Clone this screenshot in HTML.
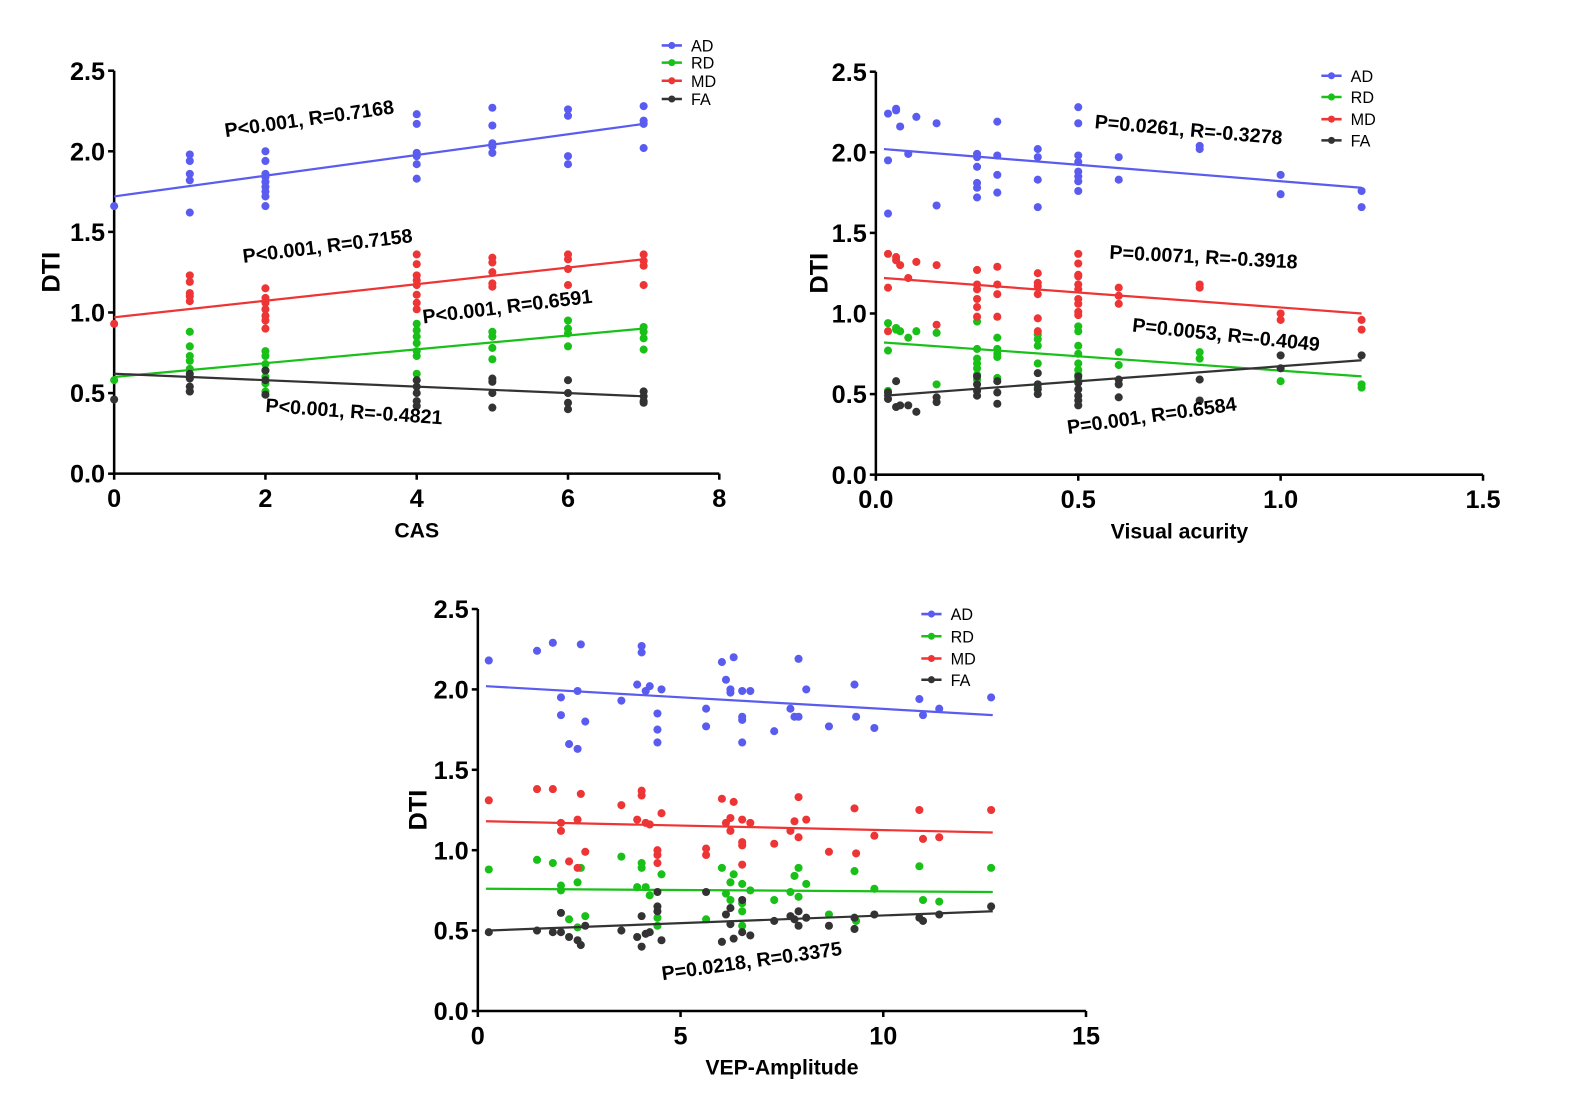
<!DOCTYPE html>
<html><head><meta charset="utf-8"><style>
html,body{margin:0;padding:0;background:#fff;}
svg{display:block;}
text{font-family:"Liberation Sans Narrow","Liberation Sans",sans-serif;}
</style></head><body>
<svg id="chart" xmlns="http://www.w3.org/2000/svg" width="1580" height="1115" viewBox="0 0 1564 1104" preserveAspectRatio="none"></svg>
<script>
// ---------- Data ----------
const seriesNames = ["AD","RD","MD","FA"];
const yTickLabels = ["0.0","0.5","1.0","1.5","2.0","2.5"];
const yTickValues = [0,0.5,1,1.5,2,2.5];

// Panel 1: CAS
const casTicks = [0,2,4,6,8];
const casTickLabels = ["0","2","4","6","8"];
const casAD_x = [0,1,1,1,1,1,2,2,2,2,2,2,2,2,2,4,4,4,4,4,4,5,5,5,5,5,6,6,6,6,7,7,7,7];
const casAD_y = [1.66,1.98,1.94,1.86,1.82,1.62,2.00,1.94,1.86,1.84,1.81,1.78,1.75,1.72,1.66,2.23,2.17,1.99,1.97,1.92,1.83,2.27,2.16,2.05,2.03,1.99,2.26,2.22,1.97,1.92,2.28,2.19,2.17,2.02];
const casMD_x = [0,1,1,1,1,1,2,2,2,2,2,2,2,4,4,4,4,4,4,4,4,5,5,5,5,5,6,6,6,6,7,7,7,7];
const casMD_y = [0.93,1.23,1.19,1.12,1.10,1.07,1.15,1.09,1.06,1.02,0.98,0.95,0.90,1.36,1.30,1.23,1.20,1.17,1.11,1.06,1.02,1.34,1.31,1.25,1.18,1.16,1.36,1.33,1.27,1.17,1.36,1.32,1.29,1.17];
const casRD_x = [0,1,1,1,1,1,1,1,2,2,2,2,2,2,2,4,4,4,4,4,4,4,5,5,5,5,6,6,6,6,7,7,7,7];
const casRD_y = [0.58,0.88,0.79,0.73,0.70,0.65,0.60,0.51,0.76,0.73,0.68,0.64,0.60,0.56,0.51,0.93,0.89,0.85,0.81,0.76,0.73,0.62,0.88,0.85,0.78,0.71,0.95,0.90,0.87,0.79,0.91,0.88,0.84,0.77];
const casFA_x = [0,1,1,1,1,2,2,2,4,4,4,4,4,5,5,5,5,6,6,6,6,7,7,7,7];
const casFA_y = [0.46,0.62,0.59,0.54,0.51,0.64,0.58,0.49,0.58,0.54,0.50,0.45,0.42,0.59,0.57,0.50,0.41,0.58,0.50,0.44,0.40,0.51,0.48,0.45,0.44];
const casFitX = [0,7];
const casFitAD = [1.72,2.17];
const casFitRD = [0.60,0.90];
const casFitMD = [0.97,1.33];
const casFitFA = [0.62,0.48];

// Panel 2: Visual acuity
const vaTicks = [0,0.5,1,1.5];
const vaTickLabels = ["0.0","0.5","1.0","1.5"];
const vaAD_x = [0.03,0.03,0.03,0.05,0.05,0.06,0.08,0.1,0.15,0.15,0.25,0.25,0.25,0.25,0.25,0.25,0.3,0.3,0.3,0.3,0.4,0.4,0.4,0.4,0.5,0.5,0.5,0.5,0.5,0.5,0.5,0.5,0.6,0.6,0.8,0.8,1.0,1.0,1.2,1.2];
const vaAD_y = [2.24,1.95,1.62,2.27,2.26,2.16,1.99,2.22,2.18,1.67,1.99,1.97,1.91,1.81,1.78,1.72,2.19,1.98,1.86,1.75,2.02,1.97,1.83,1.66,2.28,2.18,1.98,1.94,1.88,1.85,1.82,1.76,1.97,1.83,2.04,2.02,1.86,1.74,1.76,1.66];
const vaMD_x = [0.03,0.03,0.03,0.05,0.05,0.06,0.08,0.1,0.15,0.15,0.25,0.25,0.25,0.25,0.25,0.25,0.3,0.3,0.3,0.3,0.4,0.4,0.4,0.4,0.4,0.4,0.5,0.5,0.5,0.5,0.5,0.5,0.5,0.5,0.5,0.5,0.6,0.6,0.6,0.8,0.8,1.0,1.0,1.2,1.2];
const vaMD_y = [1.37,1.16,0.89,1.35,1.33,1.30,1.22,1.32,1.30,0.93,1.27,1.18,1.15,1.09,1.04,0.98,1.29,1.18,1.12,0.98,1.25,1.19,1.17,1.12,0.97,0.89,1.37,1.31,1.24,1.23,1.18,1.15,1.09,1.06,1.01,0.99,1.16,1.11,1.06,1.18,1.16,1.00,0.96,0.96,0.90];
const vaRD_x = [0.03,0.03,0.03,0.05,0.05,0.06,0.08,0.1,0.15,0.15,0.25,0.25,0.25,0.25,0.25,0.25,0.25,0.3,0.3,0.3,0.3,0.3,0.4,0.4,0.4,0.4,0.4,0.4,0.5,0.5,0.5,0.5,0.5,0.5,0.5,0.5,0.6,0.6,0.8,0.8,1.0,1.2,1.2];
const vaRD_y = [0.94,0.77,0.52,0.91,0.90,0.89,0.85,0.89,0.88,0.56,0.95,0.78,0.72,0.69,0.66,0.62,0.59,0.85,0.78,0.75,0.73,0.60,0.87,0.84,0.80,0.69,0.56,0.54,0.92,0.89,0.80,0.75,0.69,0.65,0.62,0.59,0.76,0.68,0.76,0.72,0.58,0.56,0.54];
const vaFA_x = [0.03,0.03,0.05,0.05,0.06,0.08,0.1,0.15,0.15,0.25,0.25,0.25,0.25,0.3,0.3,0.3,0.4,0.4,0.4,0.4,0.5,0.5,0.5,0.5,0.5,0.5,0.6,0.6,0.6,0.8,0.8,1.0,1.0,1.2];
const vaFA_y = [0.51,0.47,0.58,0.42,0.43,0.43,0.39,0.48,0.45,0.61,0.56,0.52,0.49,0.58,0.51,0.44,0.63,0.56,0.53,0.50,0.61,0.57,0.53,0.49,0.46,0.43,0.59,0.56,0.48,0.59,0.46,0.74,0.66,0.74];
const vaFitX = [0.02,1.2];
const vaFitAD = [2.02,1.78];
const vaFitRD = [0.82,0.61];
const vaFitMD = [1.22,1.00];
const vaFitFA = [0.49,0.71];

// Panel 3: VEP amplitude
const vepTicks = [0,5,10,15];
const vepTickLabels = ["0","5","10","15"];
const vepAD_x = [0.27,1.46,1.85,2.54,2.05,2.05,2.46,2.65,2.25,2.46,3.54,3.93,4.04,4.04,4.14,4.24,4.53,4.43,4.43,4.43,5.63,5.63,6.02,6.31,6.12,6.23,6.23,6.52,6.72,6.52,6.52,6.52,7.31,7.71,7.81,7.91,7.91,8.10,8.66,9.29,9.33,9.78,10.89,10.98,11.38,12.66];
const vepAD_y = [2.18,2.24,2.29,2.28,1.95,1.84,1.99,1.80,1.66,1.63,1.93,2.03,2.27,2.23,1.99,2.02,2.00,1.85,1.75,1.67,1.88,1.77,2.17,2.20,2.06,2.00,1.98,1.99,1.99,1.83,1.81,1.67,1.74,1.88,1.83,1.83,2.19,2.00,1.77,2.03,1.83,1.76,1.94,1.84,1.88,1.95];
const vepMD_x = [0.27,1.46,1.85,2.54,2.05,2.05,2.46,2.65,2.25,2.46,3.54,3.93,4.04,4.04,4.14,4.24,4.53,4.43,4.43,4.43,5.63,5.63,6.02,6.31,6.12,6.23,6.23,6.52,6.72,6.52,6.52,6.52,7.31,7.71,7.81,7.91,7.91,8.10,8.66,9.29,9.33,9.78,10.89,10.98,11.38,12.66];
const vepMD_y = [1.31,1.38,1.38,1.35,1.17,1.12,1.19,0.99,0.93,0.89,1.28,1.19,1.37,1.34,1.17,1.16,1.23,1.00,0.97,0.92,1.01,0.97,1.32,1.30,1.17,1.20,1.12,1.19,1.17,1.05,1.03,0.91,1.04,1.12,1.18,1.33,1.08,1.19,0.99,1.26,0.98,1.09,1.25,1.07,1.08,1.25];
const vepRD_x = [0.27,1.46,1.85,2.54,2.05,2.05,2.46,2.65,2.25,2.46,3.54,3.93,4.04,4.04,4.14,4.24,4.53,4.43,4.43,5.63,6.02,6.31,6.12,6.23,6.23,6.52,6.72,6.52,6.52,6.52,7.31,7.71,7.81,7.91,7.91,8.10,8.66,9.29,9.33,9.78,10.89,10.98,11.38,12.66];
const vepRD_y = [0.88,0.94,0.92,0.89,0.78,0.75,0.80,0.59,0.57,0.52,0.96,0.77,0.92,0.89,0.77,0.72,0.85,0.58,0.53,0.57,0.89,0.85,0.73,0.80,0.69,0.79,0.75,0.67,0.62,0.53,0.69,0.74,0.84,0.89,0.71,0.79,0.60,0.87,0.56,0.76,0.90,0.69,0.68,0.89];
const vepFA_x = [0.27,1.46,1.85,2.05,2.25,2.46,2.54,2.65,2.05,3.54,3.93,4.04,4.04,4.14,4.24,4.43,4.43,4.43,4.53,5.63,6.02,6.12,6.23,6.23,6.31,6.52,6.52,6.72,7.31,7.71,7.81,7.91,7.91,8.10,8.66,9.29,9.29,9.78,10.89,10.98,11.38,12.66];
const vepFA_y = [0.49,0.50,0.49,0.49,0.46,0.44,0.41,0.53,0.61,0.50,0.46,0.59,0.40,0.48,0.49,0.74,0.65,0.62,0.44,0.74,0.43,0.60,0.64,0.54,0.45,0.69,0.49,0.47,0.56,0.59,0.57,0.62,0.53,0.58,0.53,0.58,0.51,0.60,0.58,0.56,0.60,0.65];
const vepFitX = [0.2,12.7];
const vepFitAD = [2.02,1.84];
const vepFitRD = [0.76,0.74];
const vepFitMD = [1.18,1.11];
const vepFitFA = [0.50,0.62];

// ---------- Drawing ----------
const NS = "http://www.w3.org/2000/svg";
const svg = document.getElementById("chart");
const COLORS = {AD:"#5a5cf0", RD:"#18c018", MD:"#ee3535", FA:"#333333"};
function mk(tag, attrs, parent){
  const e = document.createElementNS(NS, tag);
  for (const k in attrs) e.setAttribute(k, attrs[k]);
  (parent||svg).appendChild(e);
  return e;
}
function txt(s, attrs, parent){ const t = mk("text", attrs, parent); t.textContent = s; return t; }

const panels = [
  {id:"cas", left:113, right:712, top:70, bottom:469, xmax:8, ticks:casTicks, tickLabels:casTickLabels, xlabel:"CAS",
   yLabelX:50, legX:655, legY:[45,62,80,98],
   series:{AD:[casAD_x,casAD_y],RD:[casRD_x,casRD_y],MD:[casMD_x,casMD_y],FA:[casFA_x,casFA_y]},
   fitX:casFitX, fits:{AD:casFitAD,RD:casFitRD,MD:casFitMD,FA:casFitFA},
   notes:[["P<0.001, R=0.7168",307,124,-8],["P<0.001, R=0.7158",325,250,-7],["P<0.001, R=0.6591",503,310,-7],["P<0.001, R=-0.4821",350,414,4]]},
  {id:"va", left:867, right:1468, top:71, bottom:470, xmax:1.5, ticks:vaTicks, tickLabels:vaTickLabels, xlabel:"Visual acurity",
   yLabelX:810, legX:1308, legY:[75,96,118,139],
   series:{AD:[vaAD_x,vaAD_y],RD:[vaRD_x,vaRD_y],MD:[vaMD_x,vaMD_y],FA:[vaFA_x,vaFA_y]},
   fitX:vaFitX, fits:{AD:vaFitAD,RD:vaFitRD,MD:vaFitMD,FA:vaFitFA},
   notes:[["P=0.0261, R=-0.3278",1176,135,5],["P=0.0071, R=-0.3918",1191,261,3],["P=0.0053, R=-0.4049",1213,338,6],["P=0.001, R=0.6584",1141,418,-8]]},
  {id:"vep", left:473, right:1075, top:603, bottom:1001, xmax:15, ticks:vepTicks, tickLabels:vepTickLabels, xlabel:"VEP-Amplitude",
   yLabelX:413, legX:912, legY:[608,630,652,673],
   series:{AD:[vepAD_x,vepAD_y],RD:[vepRD_x,vepRD_y],MD:[vepMD_x,vepMD_y],FA:[vepFA_x,vepFA_y]},
   fitX:vepFitX, fits:{AD:vepFitAD,RD:vepFitRD,MD:vepFitMD,FA:vepFitFA},
   notes:[["P=0.0218, R=0.3375",745,958,-8]]}
];

panels.forEach(p => {
  const g = mk("g", {});
  
  
  const xs = v => p.left + v / p.xmax * (p.right - p.left);
  const ys = v => p.bottom - v / 2.5 * (p.bottom - p.top);

  const yAxis = mk("line", {x1:p.left, y1:p.top, x2:p.left, y2:p.bottom, stroke:"#000", "stroke-width":2.5}, g);
  
  
  const xAxis = mk("line", {x1:p.left, y1:p.bottom, x2:p.right, y2:p.bottom, stroke:"#000", "stroke-width":2.5}, g);
  
  

  yTickValues.forEach((v,i) => {
    const y = ys(v);
    mk("line", {x1:p.left-6, y1:y, x2:p.left, y2:y, stroke:"#000", "stroke-width":2.5}, g);
    const t = txt(yTickLabels[i], {x:p.left-9, y:y+9, "text-anchor":"end", "font-size":25, "font-weight":"bold"}, g);
    
    
  });
  p.ticks.forEach((v,i) => {
    const x = xs(v);
    mk("line", {x1:x, y1:p.bottom, x2:x, y2:p.bottom+6, stroke:"#000", "stroke-width":2.5}, g);
    const t = txt(p.tickLabels[i], {x:x, y:p.bottom+33, "text-anchor":"middle", "font-size":25, "font-weight":"bold"}, g);
    
    
  });
  const xl = txt(p.xlabel, {x:(p.left+p.right)/2, y:p.bottom+63, "text-anchor":"middle", "font-size":21, "font-weight":"bold"}, g);
  
  
  const ymid = (p.top+p.bottom)/2;
  const yl = txt("DTI", {x:p.yLabelX+9, y:ymid, "text-anchor":"middle", "font-size":25, "font-weight":"bold", transform:`rotate(-90 ${p.yLabelX+9} ${ymid})`}, g);
  
  

  seriesNames.forEach(s => {
    const [sx, sy] = p.series[s];
    const sg = mk("g", {fill:COLORS[s]}, g);
    
    
    for (let i=0;i<sx.length;i++){
      const c = mk("circle", {cx:xs(sx[i]), cy:ys(sy[i]), r:4}, sg);
      
      
    }
    const f = p.fits[s];
    const ln = mk("line", {x1:xs(p.fitX[0]), y1:ys(f[0]), x2:xs(p.fitX[1]), y2:ys(f[1]), stroke:COLORS[s], "stroke-width":2.2}, g);
    
    
  });

  p.notes.forEach(n => {
    const t = txt(n[0], {x:n[1], y:n[2], "text-anchor":"middle", "font-size":19.5, "font-weight":"bold", transform:`rotate(${n[3]} ${n[1]} ${n[2]})`}, g);
    
    
  });

  const lg = mk("g", {}, g);
  
  
  seriesNames.forEach((s,i) => {
    const y = p.legY[i];
    const e = mk("g", {}, lg);
    
    
    mk("line", {x1:p.legX, y1:y, x2:p.legX+20, y2:y, stroke:COLORS[s], "stroke-width":2.5}, e);
    mk("circle", {cx:p.legX+10, cy:y, r:3.5, fill:COLORS[s]}, e);
    txt(s, {x:p.legX+29, y:y+6, "font-size":16, fill:"#000", "font-family":"Liberation Sans, sans-serif"}, e);
  });
});
</script>
</body></html>
